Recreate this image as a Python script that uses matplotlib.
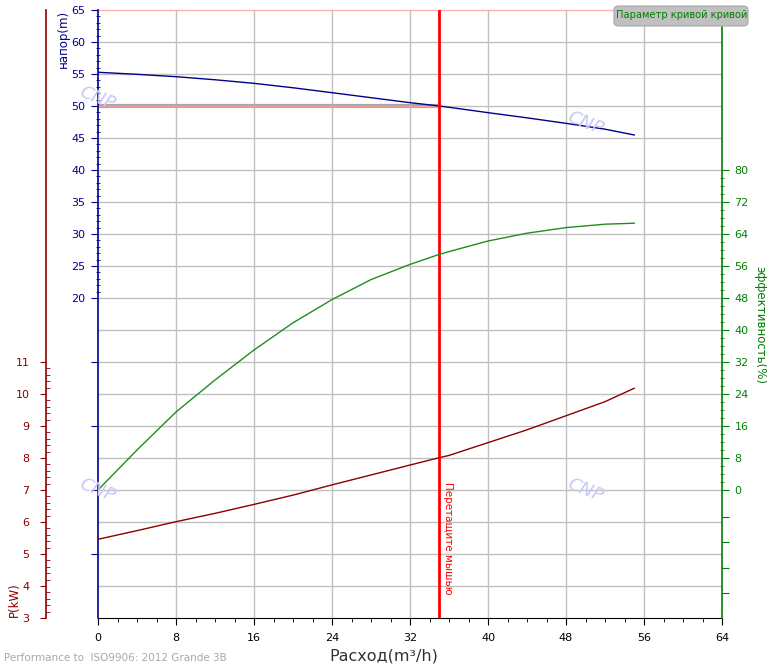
import numpy as np
import matplotlib.pyplot as plt
from matplotlib.ticker import FixedLocator, FixedFormatter
from matplotlib.patches import FancyBboxPatch

# Curve data
flow = [0, 4, 8, 12, 16, 20, 24, 28, 32, 35, 36, 40, 44, 48, 52, 55]
head = [55.27, 54.95, 54.58, 54.1, 53.54, 52.85, 52.08, 51.3, 50.52, 50.0, 49.8, 48.96, 48.15, 47.29, 46.38, 45.47]
eff = [0, 10.0, 19.5, 27.5, 35, 41.8, 47.6, 52.6, 56.4, 58.9, 59.6, 62.25, 64.2, 65.6, 66.45, 66.7]
power = [5.46, 5.73, 6.01, 6.27, 6.55, 6.84, 7.16, 7.47, 7.78, 8.01, 8.08, 8.48, 8.88, 9.32, 9.76, 10.18]

duty_flow = 35
duty_head = 50

head_ticks = [20, 25, 30, 35, 40, 45, 50, 55, 60, 65]
power_ticks = [3, 4, 5, 6, 7, 8, 9, 10, 11]
eff_ticks = [0, 8, 16, 24, 32, 40, 48, 56, 64, 72, 80]
flow_ticks = [0, 8, 16, 24, 32, 40, 48, 56, 64]

navy = '#00008b'
dred = '#8b0000'
green = '#008000'

W, H = 767, 667
fig = plt.figure(figsize=(W / 100, H / 100), dpi=100)
ax = fig.add_axes([98 / W, (H - 618) / H, 624 / W, 608 / H])
ax.set_xlim(0, 64)
ax.set_ylim(-30, 65)

# grid
for v in np.arange(-25, 65, 5):
    ax.axhline(v, color='#c0c0c0', lw=1, zorder=0)
ax.axhline(65, color='#ffb0b0', lw=1, zorder=0, clip_on=False)
for v in flow_ticks[1:-1]:
    ax.axvline(v, color='#c0c0c0', lw=1, zorder=0)

for s in ['top', 'right']:
    ax.spines[s].set_visible(False)
ax.spines['left'].set_color(navy)
ax.spines['left'].set_linewidth(1.2)
ax.spines['bottom'].set_color('black')

ax.yaxis.set_major_locator(FixedLocator(head_ticks + [10, 0, -10, -20]))
ax.yaxis.set_major_formatter(FixedFormatter([str(t) for t in head_ticks] + ['', '', '', '']))
ax.yaxis.set_minor_locator(FixedLocator([v for v in range(20, 66) if v % 5]))
ax.tick_params(axis='y', which='major', colors=navy, labelsize=8, length=5, direction='out', pad=4)
ax.tick_params(axis='y', which='minor', colors=navy, length=3, direction='inout')
ax.xaxis.set_major_locator(FixedLocator(flow_ticks))
ax.xaxis.set_minor_locator(FixedLocator(np.arange(0, 65, 2)))
ax.tick_params(axis='x', which='major', labelsize=8, length=5, pad=6)
ax.tick_params(axis='x', which='minor', length=3)

ax.plot(flow, head, color=navy, lw=1, zorder=3)
ax.plot([0, duty_flow], [duty_head, duty_head], color='#a8a8a8', lw=3, zorder=2)
ax.plot([0, duty_flow], [duty_head, duty_head], color='#f0a0a0', lw=1, zorder=2)
ax.axvline(duty_flow, color='red', lw=2, zorder=4)
ax.text(duty_flow + 0.35, -8.7, 'Перетащите мышью', rotation=-90, color='red',
        fontsize=7.5, va='top', ha='left', zorder=5)

fig.text(384 / W, 1 - 656 / H, 'Расход(m³/h)', fontsize=11.5, color='#333333',
         ha='center', va='center')
ax.text(-3.6, 65, 'напор(m)', rotation=90, color=navy, fontsize=8.5, ha='center', va='top')

# power axis
axp = ax.twinx()
axp.set_ylim(3, 22)
axp.spines['left'].set_visible(True)
axp.spines['left'].set_position(('axes', -52 / 624))
axp.spines['left'].set_color(dred)
axp.spines['left'].set_linewidth(1.2)
for s in ['top', 'right', 'bottom']:
    axp.spines[s].set_visible(False)
axp.yaxis.set_ticks_position('left')
axp.yaxis.set_label_position('left')
axp.yaxis.set_major_locator(FixedLocator(power_ticks))
axp.yaxis.set_minor_locator(FixedLocator([v for v in np.arange(3, 11.01, 0.2) if abs(v - round(v)) > 0.01]))
axp.tick_params(axis='y', which='major', colors=dred, labelsize=8, length=4, pad=8)
axp.tick_params(axis='y', which='minor', colors=dred, length=3, direction='in')
axp.plot(flow, power, color=dred, lw=1, zorder=3)
fig.text(8 / W, 1 - 600 / H, 'P(kW)', rotation=90, color=dred, fontsize=8.5, ha='left', va='center')

# efficiency axis
axe = ax.twinx()
axe.set_ylim(-32, 120)
for s in ['top', 'left', 'bottom']:
    axe.spines[s].set_visible(False)
axe.spines['right'].set_color(green)
axe.spines['right'].set_linewidth(1.2)
axe.spines['right'].set_bounds(-32, 116)
axe.yaxis.set_major_locator(FixedLocator(eff_ticks + [-6.8, -13, -19.5, -25.7]))
axe.yaxis.set_major_formatter(FixedFormatter([str(t) for t in eff_ticks] + ['', '', '', '']))
axe.yaxis.set_minor_locator(FixedLocator([v for v in range(0, 81, 2) if v % 8]))
axe.tick_params(axis='y', which='major', colors=green, labelsize=8, length=5, pad=4)
axe.tick_params(axis='y', which='minor', colors=green, length=3, direction='inout')
axe.plot(flow, eff, color='#228b22', lw=1, zorder=3)
fig.text(760 / W, 1 - 325 / H, 'эффективность(%)', rotation=-90, color=green,
         fontsize=8.5, ha='center', va='center')

# watermarks
for px, py in [(97, 98), (585, 123), (97, 490), (585, 490)]:
    fig.text(px / W, 1 - py / H, 'CNP', color='#c8c8f5', fontsize=13, style='italic',
             rotation=-22, ha='center', va='center', zorder=0)

# legend box
box = FancyBboxPatch((614 / W, 1 - 26 / H), 134 / W, 20 / H,
                     boxstyle='round,pad=0,rounding_size=0.006', transform=fig.transFigure,
                     facecolor='#c0c0c0', edgecolor='#a8a8a8', lw=0.8)
fig.patches.append(box)
fig.text(682 / W, 1 - 15 / H, 'Параметр кривой кривой', color=green, fontsize=7.1,
         ha='center', va='center')

fig.text(4 / W, 1 - 658 / H, 'Performance to  ISO9906: 2012 Grande 3B', color='#a8a8a8',
         fontsize=7.5, ha='left', va='center')

plt.savefig('out.png', dpi=100)
